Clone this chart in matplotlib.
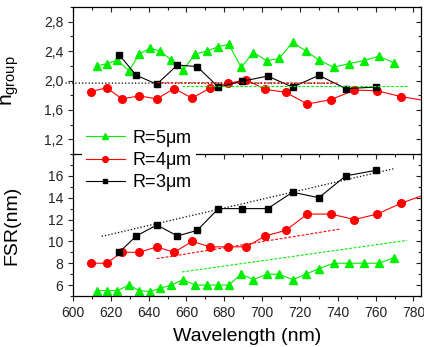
import numpy as np
import matplotlib
matplotlib.use('Agg')
import matplotlib.pyplot as plt
from matplotlib.ticker import MultipleLocator, FuncFormatter

plt.rcParams['font.family'] = ['Liberation Sans', 'DejaVu Sans']
plt.rcParams['mathtext.default'] = 'regular'

# wavelengths (nm) of the three ring radii
wl_r5 = [612.9, 618.2, 623.5, 629.6, 635.1, 640.8, 645.9, 652.0, 658.1, 664.6, 670.8, 676.8, 682.4,
         688.9, 695.4, 702.5, 709.0, 716.1, 723.2, 729.9, 737.8, 745.9, 753.7, 761.6, 769.6]
wl_r4 = [609.5, 617.8, 625.9, 635.1, 644.3, 653.5, 663.0, 672.5, 681.9, 691.6, 701.6, 712.4,
         723.9, 736.4, 748.8, 760.8, 773.6, 788.0]
wl_r3 = [624.4, 633.5, 644.3, 655.2, 665.6, 676.9, 689.5, 702.9, 716.1, 730.0, 744.2, 760.1]

# group index
ng_r5 = [2.20, 2.23, 2.28, 2.13, 2.36, 2.44, 2.40, 2.28, 2.14, 2.36, 2.40, 2.46, 2.49,
         2.18, 2.38, 2.27, 2.30, 2.52, 2.40, 2.28, 2.18, 2.23, 2.27, 2.33, 2.24]
ng_r4 = [1.85, 1.90, 1.75, 1.79, 1.75, 1.89, 1.76, 1.90, 1.96, 2.01, 1.88, 1.84,
         1.68, 1.74, 1.87, 1.86, 1.78, 1.72]
ng_r3 = [2.35, 2.07, 1.95, 2.21, 2.19, 1.91, 1.99, 2.06, 1.91, 2.07, 1.89, 1.91]

# free spectral range (nm)
fsr_r5 = [5.5, 5.5, 5.5, 6.0, 5.5, 5.4, 5.7, 6.0, 6.5, 6.0, 6.0, 6.0, 6.0,
          7.0, 6.5, 7.0, 7.0, 6.5, 7.0, 7.5, 8.0, 8.0, 8.0, 8.0, 8.5]
fsr_r4 = [8.0, 8.0, 9.0, 9.0, 9.5, 9.0, 10.0, 9.5, 9.5, 9.5, 10.5, 11.0,
          12.5, 12.5, 12.0, 12.5, 13.5, 14.4]
fsr_r3 = [9.0, 10.5, 11.5, 10.5, 11.0, 13.0, 13.0, 13.0, 14.5, 14.0, 16.0, 16.5]

# fitted lines (end points)
fit_ng_x = {'k': [596, 737], 'r': [644.5, 740], 'g': [657.6, 776.7]}
fit_ng_y = {'k': [1.965, 1.962], 'r': [1.97, 1.965], 'g': [1.93, 1.93]}
fit_fsr_x = {'k': [615.2, 770.5], 'r': [644.3, 741.0], 'g': [657.6, 776.7]}
fit_fsr_y = {'k': [10.46, 16.69], 'r': [8.42, 11.12], 'g': [7.2, 10.09]}

green = '#00ee00'
red = '#ff0000'

fig = plt.figure(figsize=(4.24, 3.47), dpi=100)
ax1 = fig.add_axes([73/424, 1-154/347, 348/424, 147/347])
ax2 = fig.add_axes([73/424, 1-296/347, 348/424, 142/347])

def style(ax):
    ax.tick_params(which='both', direction='out', labelsize=10, colors='#222222')
    ax.tick_params(which='major', length=3.5, width=0.8)
    ax.tick_params(which='minor', length=2, width=0.8)
    ax.tick_params(which='both', top=True, right=True)
    ax.xaxis.set_major_locator(MultipleLocator(20))
    ax.xaxis.set_minor_locator(MultipleLocator(10))
    ax.set_xlim(600, 784)
    for s in ax.spines.values():
        s.set_linewidth(0.9)

def mirror_in(ax):
    # inward ticks on top and right, like origin does
    for t in ax.xaxis.get_major_ticks() + ax.xaxis.get_minor_ticks():
        t.tick2line.set_marker(3)
    for t in ax.yaxis.get_major_ticks() + ax.yaxis.get_minor_ticks():
        t.tick2line.set_marker(0)

style(ax1)
style(ax2)

# top panel: group index
ax1.plot(wl_r5, ng_r5, '-^', color=green, lw=0.8, ms=6, mec=green)
ax1.plot(wl_r4, ng_r4, '-o', color=red, lw=0.8, ms=5.5, mec=red)
ax1.plot(wl_r3, ng_r3, '-s', color='black', lw=0.8, ms=4.5)
ax1.plot(fit_ng_x['k'], fit_ng_y['k'], ':', color='black', lw=0.9, clip_on=False)
ax1.plot(fit_ng_x['r'], fit_ng_y['r'], '--', color=red, lw=0.8, dashes=(2.5, 1.5))
ax1.plot(fit_ng_x['g'], fit_ng_y['g'], '--', color=green, lw=0.8, dashes=(2.5, 1.5))
ax1.set_ylim(1.0, 3.0)
ax1.yaxis.set_major_locator(MultipleLocator(0.4))
ax1.yaxis.set_minor_locator(MultipleLocator(0.2))
ax1.yaxis.set_major_formatter(FuncFormatter(lambda v, p: ('%.1f' % v).replace('.', ',')))
ax1.set_yticks([1.2, 1.6, 2.0, 2.4, 2.8])
ax1.tick_params(axis='x', bottom=False, labelbottom=False)
ax1.spines['bottom'].set_visible(False)
ax1.set_ylabel(r'n$_{group}$', fontsize=15)
ax1.yaxis.set_label_coords(-0.15, 0.5)

# bottom panel: FSR
l5, = ax2.plot(wl_r5, fsr_r5, '-^', color=green, lw=0.8, ms=6, mec=green, label=r'R=5$\mu$m')
l4, = ax2.plot(wl_r4, fsr_r4, '-o', color=red, lw=0.8, ms=5.5, mec=red, label=r'R=4$\mu$m')
l3, = ax2.plot(wl_r3, fsr_r3, '-s', color='black', lw=0.8, ms=4.5, label=r'R=3$\mu$m')
ax2.plot(fit_fsr_x['k'], fit_fsr_y['k'], ':', color='black', lw=0.9)
ax2.plot(fit_fsr_x['r'], fit_fsr_y['r'], '--', color=red, lw=0.8, dashes=(2.5, 1.5))
ax2.plot(fit_fsr_x['g'], fit_fsr_y['g'], '--', color=green, lw=0.8, dashes=(2.5, 1.5))
ax2.set_ylim(5, 18)
ax2.set_yticks([6, 8, 10, 12, 14, 16])
ax2.yaxis.set_minor_locator(MultipleLocator(1))
ax2.set_ylabel('FSR(nm)', fontsize=14)
ax2.yaxis.set_label_coords(-0.15, 0.5)
ax2.set_xlabel('Wavelength (nm)', fontsize=14, labelpad=6)

mirror_in(ax1)
mirror_in(ax2)

leg = ax2.legend(handles=[l5, l4, l3], loc='upper left', bbox_to_anchor=(0.01, 1.25),
                 fontsize=13, frameon=True, fancybox=False, edgecolor='none',
                 facecolor='white', framealpha=1, handlelength=2.2, handletextpad=0.4,
                 labelspacing=0.08, borderpad=0.2, borderaxespad=0.3, markerscale=0.75,
                 numpoints=1)
leg.set_zorder(10)

fig.savefig('out.png', dpi=100)
